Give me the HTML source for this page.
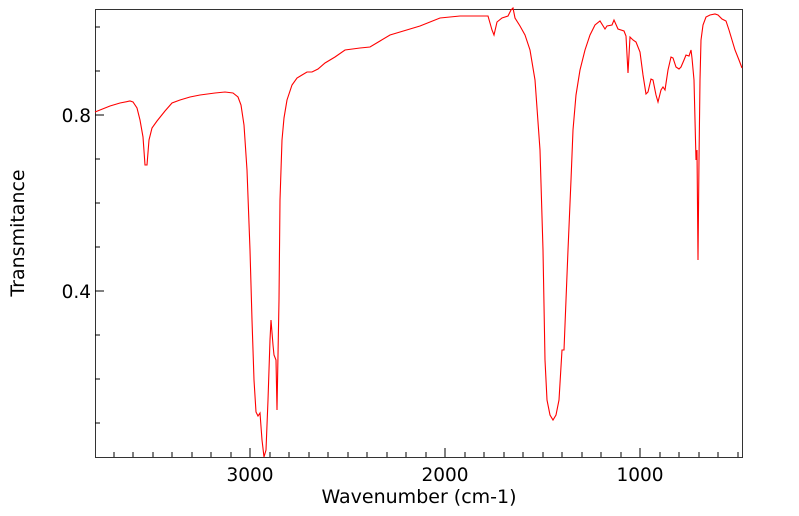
<!DOCTYPE html>
<html><head><style>body{margin:0;background:#fff}svg{display:block}text{font-family:"DejaVu Sans",sans-serif;font-size:18.5px;fill:#000}.t{font-size:19px}</style></head><body>
<svg width="799" height="516" viewBox="0 0 799 516">
<rect x="95.5" y="9.5" width="647" height="448" fill="none" stroke="#333" stroke-width="1"/>
<g stroke="#000" stroke-width="1">
<path d="M95 115h9M95 291h9M95 27h5M95 71h5M95 159h5M95 203h5M95 247h5M95 335h5M95 379h5M95 423h5"/>
<path d="M250 457v-9M445 457v-9M640 457v-9"/>
<path d="M114 457v-5M133 457v-5M153 457v-5M172 457v-5M192 457v-5M211 457v-5M231 457v-5M270 457v-5M289 457v-5M309 457v-5M328 457v-5M348 457v-5M367 457v-5M387 457v-5M406 457v-5M426 457v-5M465 457v-5M484 457v-5M504 457v-5M523 457v-5M543 457v-5M562 457v-5M582 457v-5M601 457v-5M621 457v-5M660 457v-5M679 457v-5M699 457v-5M718 457v-5M738 457v-5"/>
</g>
<text x="91" y="122" text-anchor="end">0.8</text>
<text x="91" y="298" text-anchor="end">0.4</text>
<text x="250" y="481" text-anchor="middle">3000</text>
<text x="445" y="481" text-anchor="middle">2000</text>
<text x="640" y="481" text-anchor="middle">1000</text>
<text class="t" x="419" y="503" text-anchor="middle">Wavenumber (cm-1)</text>
<text class="t" transform="translate(24,233) rotate(-90)" text-anchor="middle">Transmitance</text>
<polyline fill="none" stroke="#f00" stroke-width="1.1" points="95,112 110,106 120,103 130,101 133,102 137,108 140,120 143,137 145,165 147,165 149,140 152,128 157,121 165,111 172,103 180,100 190,97 200,95 215,93 225,92 233,93 238,97 241,105 244,125 247,170 250,250 252,320 254,380 256,412 258,416 260,413 262,440 264,457 266,450 268,400 270,340 271,320 273,345 274,355 276,360 277,410 279,300 280,200 282,140 284,118 287,100 292,85 297,78 302,75 307,72 312,72 318,69 325,63 335,57 345,50 360,48 370,47 380,41 390,35 400,32 420,26 440,18 460,16 480,16 488,16 492,30 494,35 497,22 502,18 508,16 511,10 513,8 515,18 520,26 525,35 530,50 535,80 540,150 543,250 545,360 547,400 550,415 553,420 556,415 559,400 562,350 564,350 566,300 568,250 571,180 573,130 576,95 580,70 585,50 590,35 595,25 600,21 605,29 607,26 612,25 614,20 618,29 624,31 626,36 628,73 630,37 633,40 636,42 640,52 643,75 646,94 648,92 651,79 653,80 656,95 658,102 661,90 663,87 665,90 668,70 671,57 673,58 676,67 679,69 681,67 684,60 686,55 689,56 691,50 692,58 694,80 696,160 697,150 698,260 699,160 700,80 701,40 703,25 706,17 710,15 715,14 718,15 722,19 726,21 729,30 732,40 735,50 739,60 742,68"/>
</svg>
</body></html>
